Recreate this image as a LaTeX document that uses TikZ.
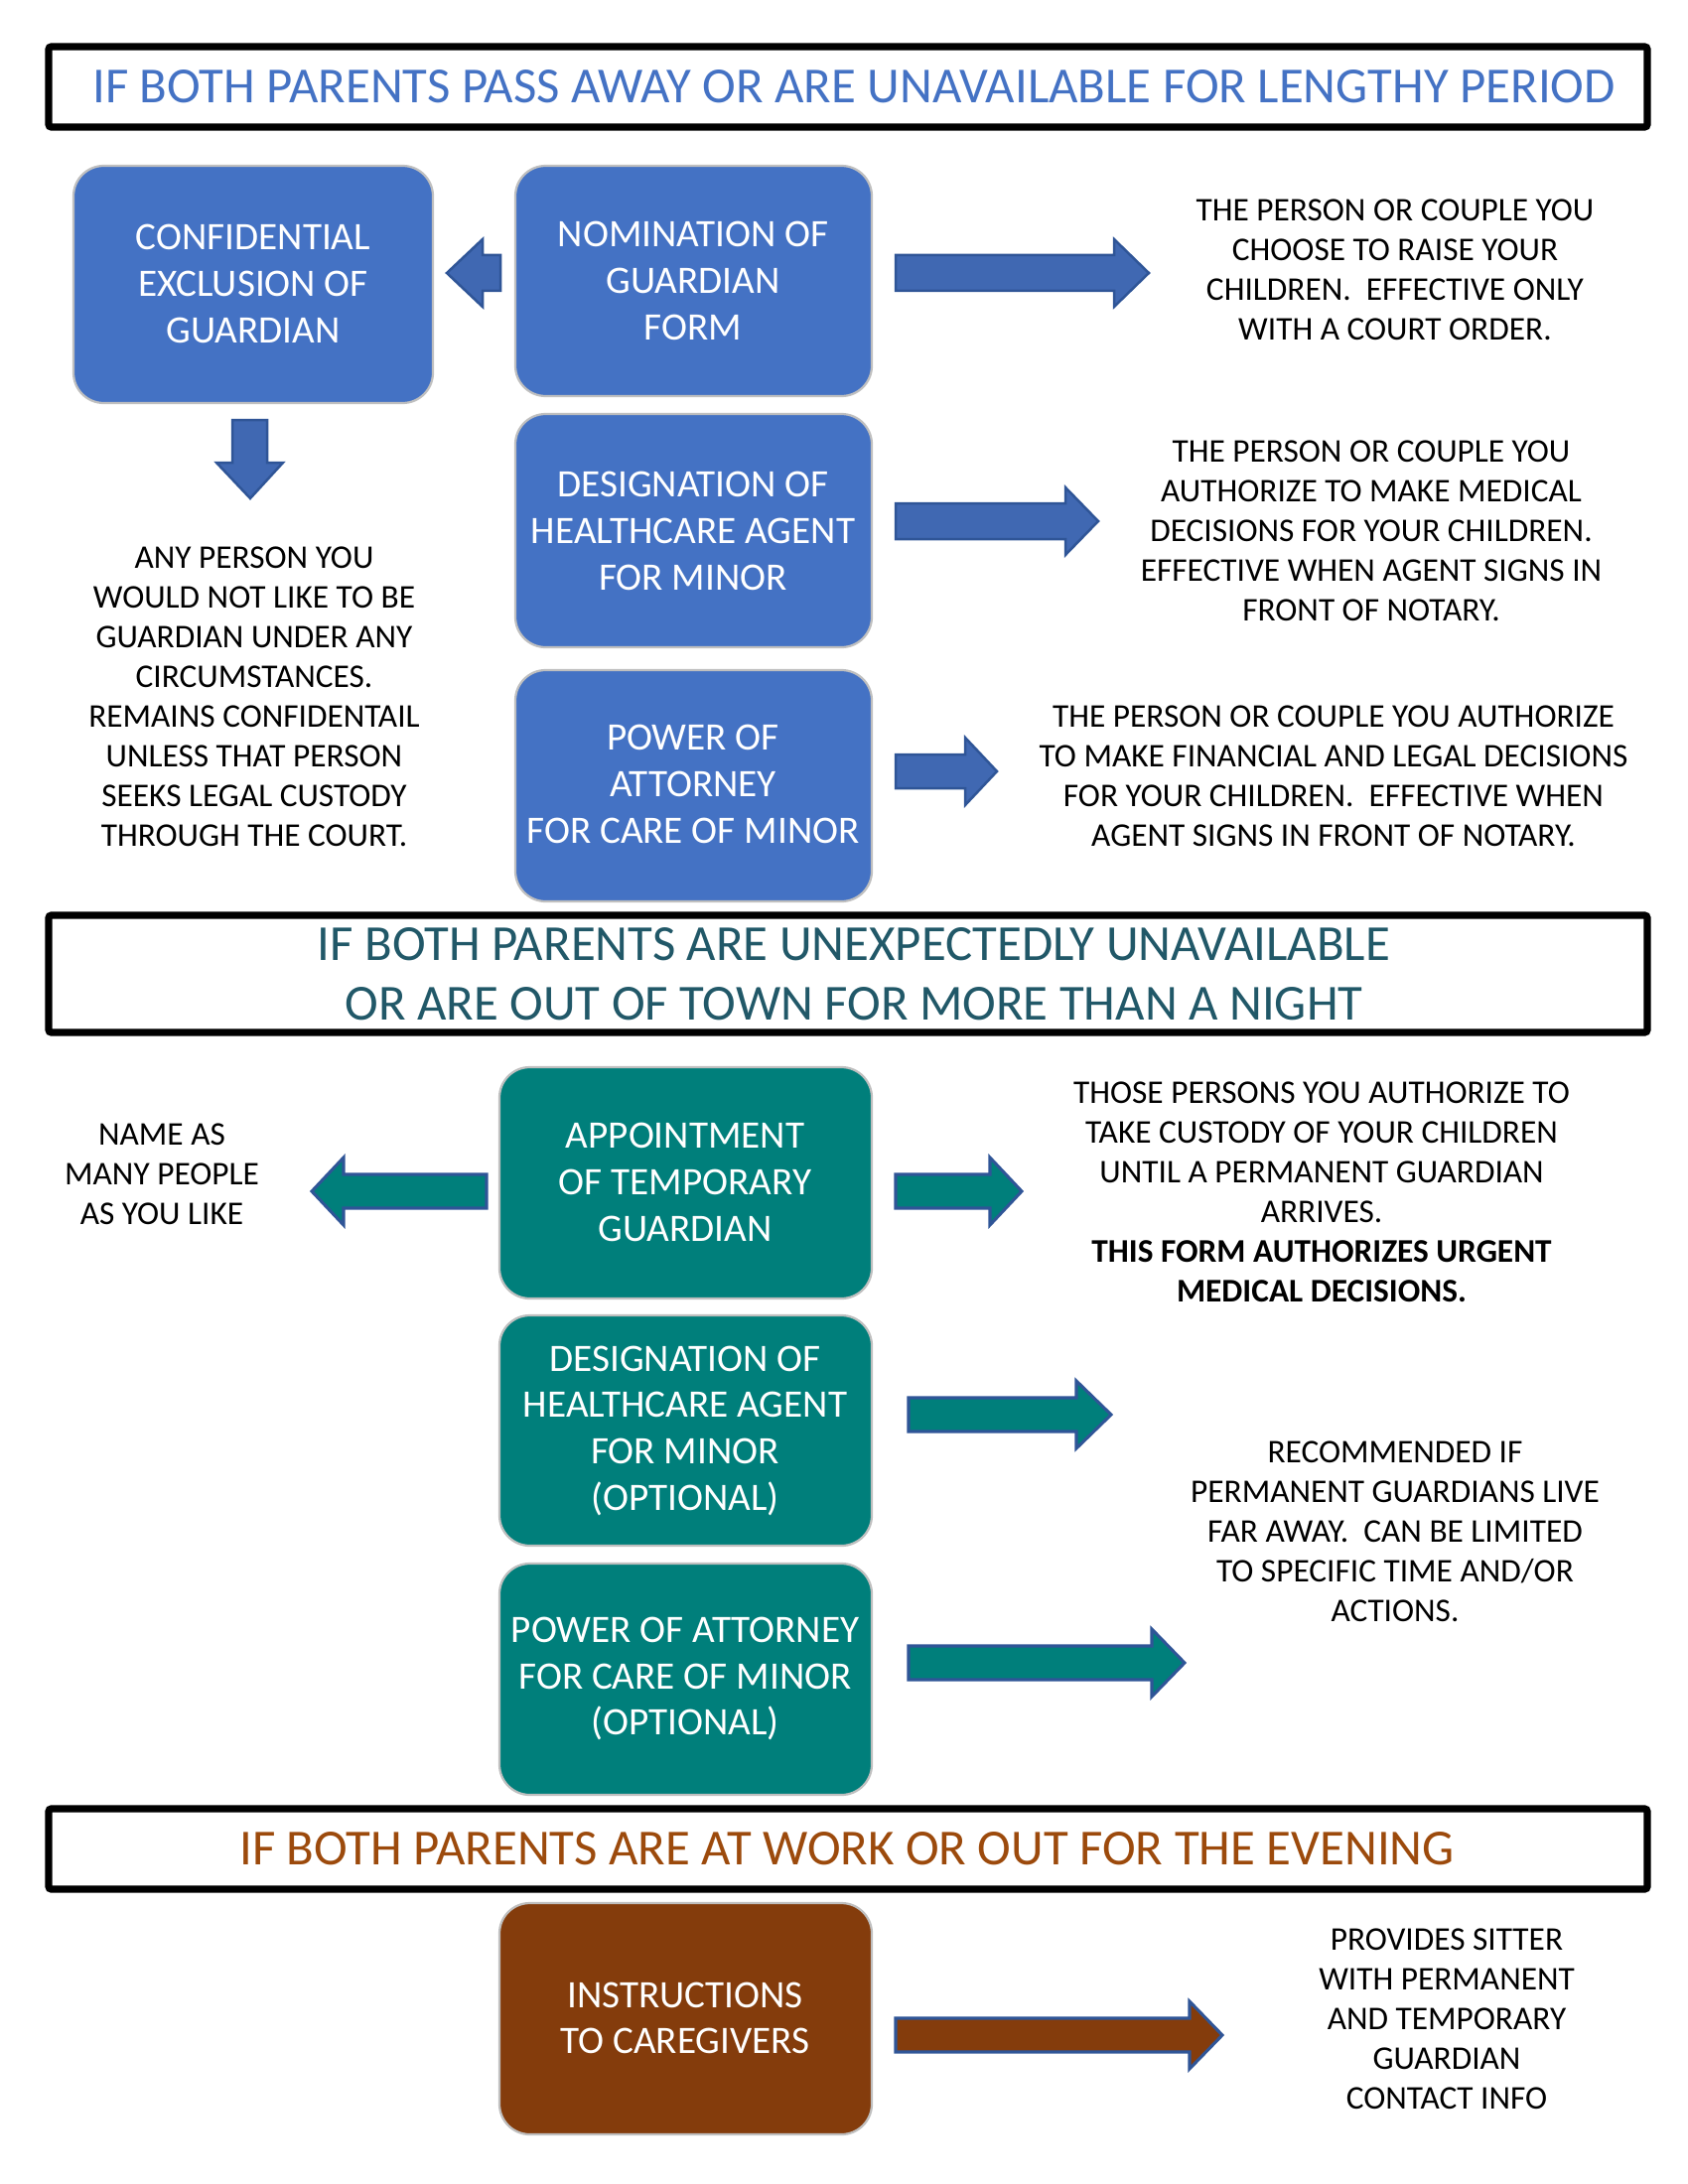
\documentclass[tikz,border=0pt]{standalone}
\usepackage{fontspec}
\setmainfont{Carlito}
\definecolor{cblue}{HTML}{4472C4}
\definecolor{ablue}{HTML}{4068B2}
\definecolor{edgeblue}{HTML}{2F5597}
\definecolor{cteal}{HTML}{007F7B}
\definecolor{tteal}{HTML}{215868}
\definecolor{cbrown}{HTML}{843C0C}
\definecolor{tbrown}{HTML}{9C4A0C}
\definecolor{boxedge}{HTML}{BFBFBF}
\newcommand\myarrow[7]{% style, x1, xb, xt, yc, shaft half, head half
  \fill[#1] (#2,#5-#6) -- (#3,#5-#6) -- (#3,#5-#7) -- (#4,#5) -- (#3,#5+#7) -- (#3,#5+#6) -- (#2,#5+#6) -- cycle;}
\begin{document}
\begin{tikzpicture}[x=0.36pt,y=-0.36pt,
  formbox/.style={draw=boxedge,line width=0.8pt,rounded corners=11pt},
  formtext/.style={text=white,align=center,font=\fontsize{14.1}{16.8}\selectfont},
  desc/.style={align=center,font=\fontsize{12}{14.4}\selectfont},
  titlebox/.style={draw=black,line width=2.6pt,rounded corners=1pt},
  titletext/.style={align=center,font=\fontsize{18.3}{21.6}\selectfont},
  barrow/.style={fill=ablue,draw=edgeblue,line width=0.9pt},
  tarrow/.style={fill=cteal,draw=edgeblue,line width=1.1pt},
  brarrow/.style={fill=cbrown,draw=edgeblue,line width=1.1pt}]
\useasboundingbox (0,0) rectangle (1700,2200);
% ---------- section 1 ----------
\draw[titlebox] (49,47) rectangle (1659,128);
\node[titletext,text=cblue] (t1) at (860,87) {IF BOTH PARENTS PASS AWAY OR ARE UNAVAILABLE FOR LENGTHY PERIOD};

\filldraw[formbox,fill=cblue] (74,167) rectangle (436,406);
\node[formtext] (conf) at (255,286) {CONFIDENTIAL\\EXCLUSION OF\\GUARDIAN};
\filldraw[formbox,fill=cblue] (519,167) rectangle (878,399);
\node[formtext] (nom) at (698,283) {NOMINATION OF\\GUARDIAN\\FORM};
\filldraw[formbox,fill=cblue] (519,417) rectangle (878,652);
\node[formtext] (des) at (698,535) {DESIGNATION OF\\HEALTHCARE AGENT\\FOR MINOR};
\filldraw[formbox,fill=cblue] (519,675) rectangle (878,908);
\node[formtext] (poa) at (698,790) {POWER OF\\ATTORNEY\\FOR CARE OF MINOR};

\myarrow{barrow}{504}{486}{450}{275}{18}{34}
\myarrow{barrow}{902}{1122}{1157}{275}{18}{34}
\myarrow{barrow}{902}{1073}{1106}{525}{18}{34}
\myarrow{barrow}{902}{972}{1004}{777}{17}{34}
\fill[barrow] (234,423) -- (269,423) -- (269,466) -- (285,466) -- (252,502) -- (218,466) -- (234,466) -- cycle;

\node[desc] (d1) at (1405,272) {THE PERSON OR COUPLE YOU\\CHOOSE TO RAISE YOUR\\CHILDREN.\ \ EFFECTIVE ONLY\\WITH A COURT ORDER.};
\node[desc] (d2) at (1381,535) {THE PERSON OR COUPLE YOU\\AUTHORIZE TO MAKE MEDICAL\\DECISIONS FOR YOUR CHILDREN.\\EFFECTIVE WHEN AGENT SIGNS IN\\FRONT OF NOTARY.};
\node[desc] (d3) at (1343,782) {THE PERSON OR COUPLE YOU AUTHORIZE\\TO MAKE FINANCIAL AND LEGAL DECISIONS\\FOR YOUR CHILDREN.\ \ EFFECTIVE WHEN\\AGENT SIGNS IN FRONT OF NOTARY.};
\node[desc] (d0) at (256,702) {ANY PERSON YOU\\WOULD NOT LIKE TO BE\\GUARDIAN UNDER ANY\\CIRCUMSTANCES.\\REMAINS CONFIDENTAIL\\UNLESS THAT PERSON\\SEEKS LEGAL CUSTODY\\THROUGH THE COURT.};

% ---------- section 2 ----------
\draw[titlebox] (49,922) rectangle (1659,1040);
\node[titletext,text=tteal] (t2) at (860,981) {IF BOTH PARENTS ARE UNEXPECTEDLY UNAVAILABLE\\OR ARE OUT OF TOWN FOR MORE THAN A NIGHT};

\filldraw[formbox,fill=cteal] (503,1075) rectangle (878,1308);
\node[formtext] (app) at (690,1191) {APPOINTMENT\\OF TEMPORARY\\GUARDIAN};
\filldraw[formbox,fill=cteal] (503,1325) rectangle (878,1557);
\node[formtext] (des2) at (690,1441) {DESIGNATION OF\\HEALTHCARE AGENT\\FOR MINOR\\(OPTIONAL)};
\filldraw[formbox,fill=cteal] (503,1575) rectangle (878,1808);
\node[formtext] (poa2) at (690,1691) {POWER OF ATTORNEY\\FOR CARE OF MINOR\\(OPTIONAL)};

\myarrow{tarrow}{490}{346}{314}{1200}{17}{34}
\myarrow{tarrow}{902}{997}{1029}{1200}{17}{34}
\myarrow{tarrow}{915}{1084}{1119}{1425}{17}{34}
\myarrow{tarrow}{915}{1160}{1193}{1675}{17}{34}

\node[desc] (d4) at (163,1183) {NAME AS\\MANY PEOPLE\\AS YOU LIKE};
\node[desc] (d5) at (1331,1201) {THOSE PERSONS YOU AUTHORIZE TO\\TAKE CUSTODY OF YOUR CHILDREN\\UNTIL A PERMANENT GUARDIAN\\ARRIVES.\\\textbf{THIS FORM AUTHORIZES URGENT}\\\textbf{MEDICAL DECISIONS.}};
\node[desc] (d6) at (1405,1543) {RECOMMENDED IF\\PERMANENT GUARDIANS LIVE\\FAR AWAY.\ \ CAN BE LIMITED\\TO SPECIFIC TIME AND/OR\\ACTIONS.};

% ---------- section 3 ----------
\draw[titlebox] (49,1822) rectangle (1659,1903);
\node[titletext,text=tbrown] (t3) at (853,1862) {IF BOTH PARENTS ARE AT WORK OR OUT FOR THE EVENING};

\filldraw[formbox,fill=cbrown] (503,1917) rectangle (878,2150);
\node[formtext] (ins) at (690,2033) {INSTRUCTIONS\\TO CAREGIVERS};
\myarrow{brarrow}{902}{1198}{1231}{2050}{17}{34}
\node[desc] (d7) at (1457,2034) {PROVIDES SITTER\\WITH PERMANENT\\AND TEMPORARY\\GUARDIAN\\CONTACT INFO};
\end{tikzpicture}
\end{document}
